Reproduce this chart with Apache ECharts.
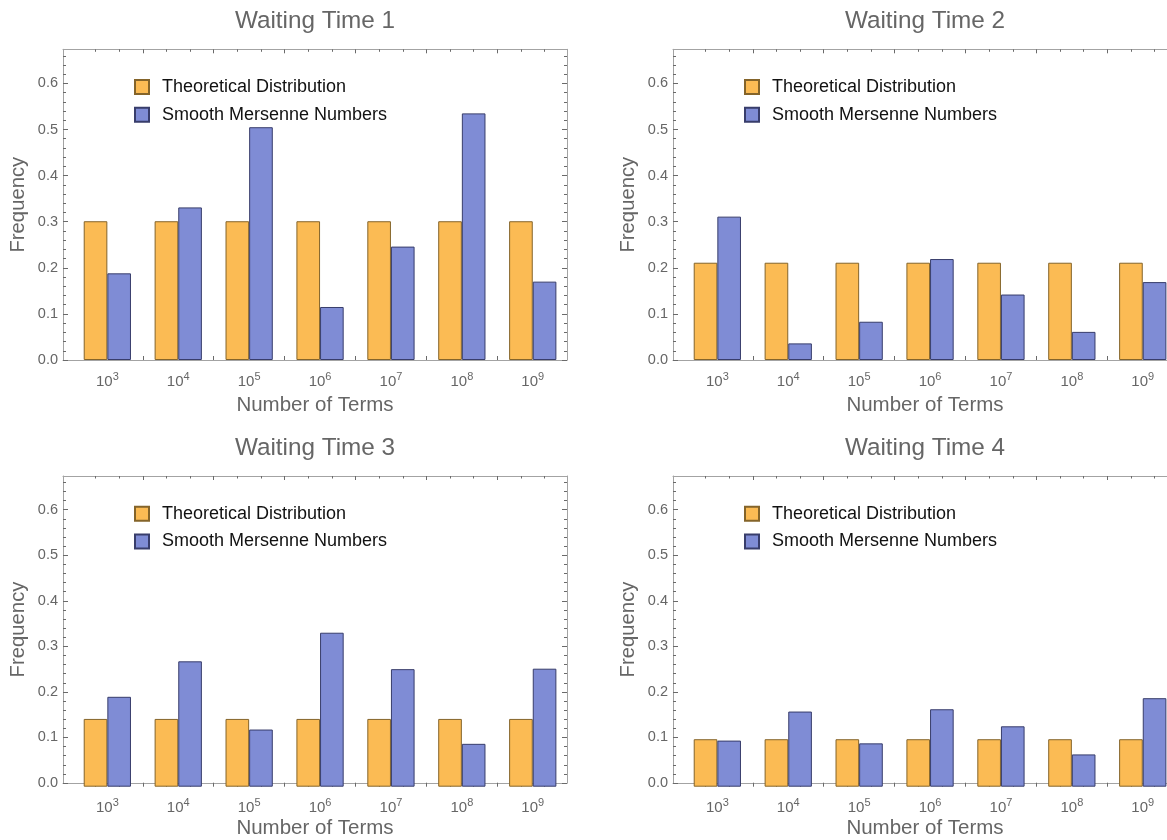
<!DOCTYPE html>
<html>
<head>
<meta charset="utf-8">
<script src="https://cdn.jsdelivr.net/npm/echarts@6/dist/echarts.min.js"></script>
<style>
html,body{margin:0;padding:0;background:#fff;overflow:hidden;width:1167px;height:840px;}
#chart{width:1200px;height:840px;}
</style>
</head>
<body>
<div id="chart"></div>
<script>
// ---- data ----
const exponents = ['3', '4', '5', '6', '7', '8', '9'];           // categories: 10^n terms
const panelTitles = ['Waiting Time 1', 'Waiting Time 2', 'Waiting Time 3', 'Waiting Time 4'];
const seriesNames = ['Theoretical Distribution', 'Smooth Mersenne Numbers'];

const theoretical1 = [0.301, 0.301, 0.301, 0.301, 0.301, 0.301, 0.301];
const mersenne1    = [0.188, 0.331, 0.505, 0.115, 0.246, 0.535, 0.170];

const theoretical2 = [0.211, 0.211, 0.211, 0.211, 0.211, 0.211, 0.211];
const mersenne2    = [0.311, 0.036, 0.083, 0.219, 0.142, 0.061, 0.169];

const theoretical3 = [0.147, 0.147, 0.147, 0.147, 0.147, 0.147, 0.147];
const mersenne3    = [0.195, 0.272, 0.124, 0.334, 0.255, 0.093, 0.256];

const theoretical4 = [0.103, 0.103, 0.103, 0.103, 0.103, 0.103, 0.103];
const mersenne4    = [0.100, 0.163, 0.094, 0.168, 0.131, 0.070, 0.192];

const yTickLabels = [0, 0.1, 0.2, 0.3, 0.4, 0.5, 0.6];
const yMinorTicks = [0.02, 0.04, 0.06, 0.08, 0.12, 0.14, 0.16, 0.18, 0.22, 0.24, 0.26, 0.28,
                     0.32, 0.34, 0.36, 0.38, 0.42, 0.44, 0.46, 0.48, 0.52, 0.54, 0.56, 0.58,
                     0.62, 0.64, 0.66];
const yMax = 0.674;
// x ticks in category units: boundaries and bar centres
const xMajorTicks = [1, 2, 3, 4, 5, 6];
const xMinorTicks = [1/3, 2/3, 4/3, 5/3, 7/3, 8/3, 10/3, 11/3, 13/3, 14/3, 16/3, 17/3, 19/3, 20/3];

const theoreticalAll = [theoretical1, theoretical2, theoretical3, theoretical4];
const mersenneAll = [mersenne1, mersenne2, mersenne3, mersenne4];

// ---- style ----
const FONT = '"Liberation Sans", Arial, sans-serif';
const GRAY = '#666666';
const FRAME = '#a3a3a3';
const TICK = '#6a6a6a';
const ORANGE = '#FBBB54';
const ORANGE_EDGE = '#84642a';
const BLUE = '#7F8CD5';
const BLUE_EDGE = '#383d6b';

const panelDx = [0, 610, 0, 610];
const panelDy = [0, 0, 426.7, 426.7];

const grids = [], xAxes = [], yAxes = [], series = [], titles = [], legends = [];

function hidden() {
  return {
    axisLine: { show: false, onZero: false },
    axisTick: { show: false },
    axisLabel: { show: false },
    splitLine: { show: false }
  };
}

for (let p = 0; p < 4; p++) {
  const dx = panelDx[p], dy = panelDy[p];
  const top = 49.3 + dy, height = 310.7;
  const fg = grids.length;
  grids.push({ left: 63 + dx, top: top, width: 504, height: height, containLabel: false });
  const bg = grids.length;
  grids.push({ left: 71.9 + dx, top: top, width: 496.3, height: height, containLabel: false });

  titles.push({
    text: panelTitles[p],
    left: 315 + dx, top: 9.5 + dy, textAlign: 'center', padding: 0,
    textStyle: { fontFamily: FONT, fontSize: 24.3, fontWeight: 'normal', color: GRAY }
  });

  // frame x axes (bottom + top)
  xAxes.push(Object.assign(hidden(), {
    gridIndex: fg, type: 'value', min: 0, max: 1, position: 'bottom',
    axisLine: { show: true, onZero: false, lineStyle: { color: FRAME, width: 1 } },
    name: 'Number of Terms', nameLocation: 'middle', nameGap: 35,
    nameTextStyle: { fontFamily: FONT, fontSize: 20.5, color: GRAY }
  }));
  xAxes.push(Object.assign(hidden(), {
    gridIndex: fg, type: 'value', min: 0, max: 1, position: 'top',
    axisLine: { show: true, onZero: false, lineStyle: { color: FRAME, width: 1 } }
  }));
  // category axis for bars
  const catIndex = xAxes.length;
  xAxes.push({
    gridIndex: bg, type: 'category', data: exponents, position: 'bottom',
    axisLine: { show: false, onZero: false }, axisTick: { show: false }, splitLine: { show: false },
    axisLabel: {
      margin: 11, interval: 0,
      formatter: v => '{b|10}{s|' + v + '}',
      rich: {
        b: { fontFamily: FONT, fontSize: 15, color: GRAY, verticalAlign: 'bottom' },
        s: { fontFamily: FONT, fontSize: 11, color: GRAY, verticalAlign: 'bottom', padding: [0, 0, 7, 0] }
      }
    }
  });
  // x tick axes (bottom/top, major/minor)
  ['bottom', 'top'].forEach(pos => {
    xAxes.push(Object.assign(hidden(), {
      gridIndex: bg, type: 'value', min: 0, max: 7, position: pos,
      axisTick: { show: true, inside: true, length: 4, customValues: xMajorTicks, lineStyle: { color: TICK } }
    }));
    xAxes.push(Object.assign(hidden(), {
      gridIndex: bg, type: 'value', min: 0, max: 7, position: pos,
      axisTick: { show: true, inside: true, length: 2.5, customValues: xMinorTicks, lineStyle: { color: TICK } }
    }));
  });

  // frame y axes
  yAxes.push(Object.assign(hidden(), {
    gridIndex: fg, type: 'value', min: 0, max: yMax, position: 'left', offset: 0,
    axisLine: { show: true, onZero: false, lineStyle: { color: FRAME, width: 1 } },
    axisTick: { show: true, inside: true, length: 5, customValues: yTickLabels, lineStyle: { color: TICK } },
    axisLabel: {
      show: true, margin: 5, customValues: yTickLabels,
      formatter: v => v.toFixed(1),
      fontFamily: FONT, fontSize: 14.5, color: GRAY
    },
    name: 'Frequency', nameLocation: 'middle', nameGap: 35, nameRotate: 90,
    nameTextStyle: { fontFamily: FONT, fontSize: 20.3, color: GRAY }
  }));
  yAxes.push(Object.assign(hidden(), {
    gridIndex: fg, type: 'value', min: 0, max: yMax, position: 'left', offset: 0,
    axisTick: { show: true, inside: true, length: 3, customValues: yMinorTicks, lineStyle: { color: TICK } }
  }));
  yAxes.push(Object.assign(hidden(), {
    gridIndex: fg, type: 'value', min: 0, max: yMax, position: 'right', offset: 0,
    axisLine: { show: true, onZero: false, lineStyle: { color: FRAME, width: 1 } },
    axisTick: { show: true, inside: true, length: 5, customValues: yTickLabels, lineStyle: { color: TICK } }
  }));
  yAxes.push(Object.assign(hidden(), {
    gridIndex: fg, type: 'value', min: 0, max: yMax, position: 'right', offset: 0,
    axisTick: { show: true, inside: true, length: 3, customValues: yMinorTicks, lineStyle: { color: TICK } }
  }));
  const barY = yAxes.length;
  yAxes.push(Object.assign(hidden(), {
    gridIndex: bg, type: 'value', min: 0, max: yMax, position: 'left', show: false
  }));

  series.push({
    name: seriesNames[0], type: 'bar', xAxisIndex: catIndex, yAxisIndex: barY,
    data: theoreticalAll[p], barGap: '0%', barCategoryGap: '33.333%',
    itemStyle: { color: ORANGE, borderColor: ORANGE_EDGE, borderWidth: 1 },
    silent: true, animation: false
  });
  series.push({
    name: seriesNames[1], type: 'bar', xAxisIndex: catIndex, yAxisIndex: barY,
    data: mersenneAll[p], barGap: '0%', barCategoryGap: '33.333%',
    itemStyle: { color: BLUE, borderColor: BLUE_EDGE, borderWidth: 1 },
    silent: true, animation: false
  });

  legends.push({
    data: seriesNames, orient: 'vertical', left: 134 + dx, top: 78 + dy, padding: 0,
    icon: 'rect', itemWidth: 14, itemHeight: 14, itemGap: 9.7, selectedMode: false,
    textStyle: { fontFamily: FONT, fontSize: 18, color: '#111', padding: [0, 0, 0, 8] }
  });
}

const chart = echarts.init(document.getElementById('chart'), null, { renderer: 'canvas', width: 1200, height: 840 });
chart.setOption({
  backgroundColor: '#ffffff',
  animation: false,
  title: titles,
  legend: legends,
  grid: grids,
  xAxis: xAxes,
  yAxis: yAxes,
  series: series
});
</script>
</body>
</html>
